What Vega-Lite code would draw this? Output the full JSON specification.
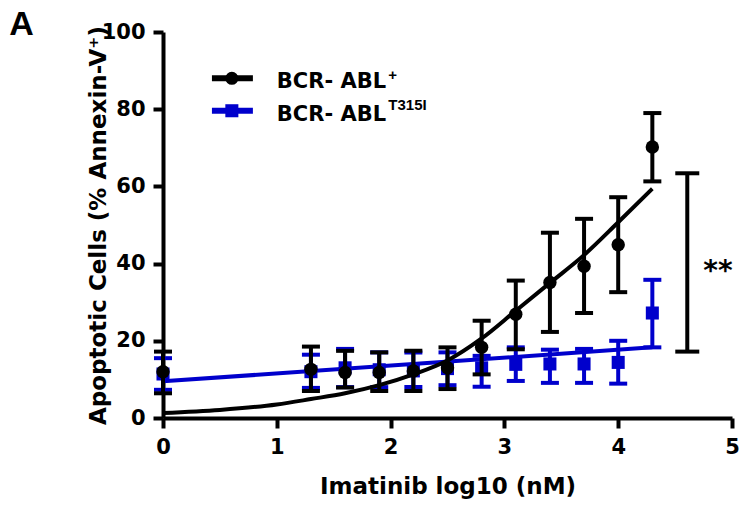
{
  "$schema": "https://vega.github.io/schema/vega-lite/v6.json",
  "width": 569,
  "height": 386,
  "autosize": {"type": "none"},
  "padding": {"left": 163, "top": 32, "right": 9, "bottom": 88},
  "background": "white",
  "config": {
    "view": {"stroke": null},
    "axis": {
      "domainColor": "black", "domainWidth": 4, "tickColor": "black", "tickWidth": 4, "tickSize": 10,
      "labelFont": "DejaVu Sans", "labelFontWeight": "bold", "labelFontSize": 21, "labelColor": "black",
      "titleFont": "DejaVu Sans", "titleFontWeight": "bold", "titleFontSize": 23, "titleColor": "black",
      "grid": false, "labelFlush": false, "labelOverlap": false
    },
    "axisX": {"labelPadding": 8, "titleY": 75, "titleBaseline": "alphabetic"},
    "axisY": {"labelPadding": 8, "titleX": -58, "titleY": 193, "titleBaseline": "alphabetic", "titleAngle": 270, "titleAlign": "center"}
  },
  "datasets": {
    "black": [
      {"x": 0, "mean": 12.0, "lo": 6.4, "hi": 17.2},
      {"x": 1.3, "mean": 12.6, "lo": 7.0, "hi": 18.5},
      {"x": 1.6, "mean": 11.8, "lo": 7.9, "hi": 17.4},
      {"x": 1.9, "mean": 11.8, "lo": 7.0, "hi": 17.0},
      {"x": 2.2, "mean": 12.2, "lo": 7.0, "hi": 17.4},
      {"x": 2.5, "mean": 13.0, "lo": 7.5, "hi": 18.3},
      {"x": 2.8, "mean": 18.3, "lo": 11.3, "hi": 25.2},
      {"x": 3.1, "mean": 26.9, "lo": 17.8, "hi": 35.6},
      {"x": 3.4, "mean": 35.1, "lo": 22.3, "hi": 48.0},
      {"x": 3.7, "mean": 39.3, "lo": 27.2, "hi": 51.6},
      {"x": 4.0, "mean": 44.9, "lo": 32.6, "hi": 57.2},
      {"x": 4.3, "mean": 70.2, "lo": 61.3, "hi": 79.0}
    ],
    "blue": [
      {"x": 0, "mean": 11.4, "lo": 7.3, "hi": 15.5},
      {"x": 1.3, "mean": 12.0, "lo": 7.8, "hi": 16.4},
      {"x": 1.6, "mean": 13.0, "lo": 8.0, "hi": 17.9},
      {"x": 1.9, "mean": 12.5, "lo": 8.0, "hi": 17.0},
      {"x": 2.2, "mean": 12.2, "lo": 8.0, "hi": 17.0},
      {"x": 2.5, "mean": 12.8, "lo": 8.5, "hi": 17.0},
      {"x": 2.8, "mean": 13.0, "lo": 8.1, "hi": 16.1},
      {"x": 3.1, "mean": 13.9, "lo": 9.6, "hi": 18.3},
      {"x": 3.4, "mean": 14.0, "lo": 9.1, "hi": 17.7},
      {"x": 3.7, "mean": 14.0, "lo": 9.1, "hi": 17.9},
      {"x": 4.0, "mean": 14.4, "lo": 8.9, "hi": 20.0},
      {"x": 4.3, "mean": 27.2, "lo": 18.3, "hi": 35.8}
    ],
    "blackFit": [
      {"x": 0, "y": 1.3}, {"x": 0.5, "y": 2.1}, {"x": 1.0, "y": 3.5}, {"x": 1.3, "y": 4.9},
      {"x": 1.6, "y": 6.4}, {"x": 1.9, "y": 8.5}, {"x": 2.2, "y": 11.3}, {"x": 2.5, "y": 14.9},
      {"x": 2.8, "y": 20.6}, {"x": 3.1, "y": 27.8}, {"x": 3.4, "y": 35.0}, {"x": 3.7, "y": 42.2},
      {"x": 4.0, "y": 50.7}, {"x": 4.3, "y": 59.4}
    ],
    "blueFit": [{"x": 0, "y": 9.5}, {"x": 4.3, "y": 18.3}],
    "bracket": [{"x": 4.607, "lo": 17.2, "hi": 63.4}],
    "stars": [{"x": 4.877, "y": 35.8, "label": "**"}],
    "panel": [{"x": -1.35, "y": 99.2, "label": "A"}],
    "legendLines": [
      {"series": "black", "x": 0.43, "x2": 0.79, "y": 88.0, "px": 0.605},
      {"series": "blue", "x": 0.43, "x2": 0.79, "y": 79.6, "px": 0.605}
    ],
    "legendText": [
      {"x": 1.0, "y": 85.4, "label": "BCR- ABL"},
      {"x": 1.0, "y": 77.0, "label": "BCR- ABL"}
    ],
    "legendSup": [
      {"x": 1.98, "y": 87.6, "label": "+"},
      {"x": 1.98, "y": 79.8, "label": "T315I"}
    ]
  },
  "encoding": {
    "x": {
      "field": "x", "type": "quantitative",
      "scale": {"domain": [0, 5], "nice": false, "zero": false},
      "axis": {"title": "Imatinib log10 (nM)", "values": [0, 1, 2, 3, 4, 5], "format": "d"}
    }
  },
  "layer": [
    {
      "data": {"name": "blueFit"},
      "mark": {"type": "line", "color": "#0000CC", "strokeWidth": 4},
      "encoding": {
        "y": {"field": "y", "type": "quantitative", "scale": {"domain": [0, 100], "nice": false},
              "axis": {"title": "Apoptotic Cells (% Annexin-V⁺)", "values": [0, 20, 40, 60, 80, 100]}}
      }
    },
    {
      "data": {"name": "blue"},
      "mark": {"type": "rule", "color": "#0000CC", "strokeWidth": 4},
      "encoding": {
        "y": {"field": "lo", "type": "quantitative", "scale": {"domain": [0, 100], "nice": false}, "axis": {"title": "Apoptotic Cells (% Annexin-V⁺)", "values": [0, 20, 40, 60, 80, 100]}},
        "y2": {"field": "hi"}
      }
    },
    {
      "data": {"name": "blue"},
      "mark": {"type": "tick", "orient": "horizontal", "color": "#0000CC", "size": 18, "thickness": 4, "opacity": 1},
      "encoding": {
        "y": {"field": "lo", "type": "quantitative", "scale": {"domain": [0, 100], "nice": false}, "axis": {"title": "Apoptotic Cells (% Annexin-V⁺)", "values": [0, 20, 40, 60, 80, 100]}}
      }
    },
    {
      "data": {"name": "blue"},
      "mark": {"type": "tick", "orient": "horizontal", "color": "#0000CC", "size": 18, "thickness": 4, "opacity": 1},
      "encoding": {
        "y": {"field": "hi", "type": "quantitative", "scale": {"domain": [0, 100], "nice": false}, "axis": {"title": "Apoptotic Cells (% Annexin-V⁺)", "values": [0, 20, 40, 60, 80, 100]}}
      }
    },
    {
      "data": {"name": "blue"},
      "mark": {"type": "point", "shape": "square", "filled": true, "color": "#0000CC", "size": 170, "opacity": 1},
      "encoding": {
        "y": {"field": "mean", "type": "quantitative", "scale": {"domain": [0, 100], "nice": false}, "axis": {"title": "Apoptotic Cells (% Annexin-V⁺)", "values": [0, 20, 40, 60, 80, 100]}}
      }
    },
    {
      "data": {"name": "blackFit"},
      "mark": {"type": "line", "color": "black", "strokeWidth": 4, "interpolate": "monotone"},
      "encoding": {
        "y": {"field": "y", "type": "quantitative", "scale": {"domain": [0, 100], "nice": false}, "axis": {"title": "Apoptotic Cells (% Annexin-V⁺)", "values": [0, 20, 40, 60, 80, 100]}}
      }
    },
    {
      "data": {"name": "black"},
      "mark": {"type": "rule", "color": "black", "strokeWidth": 4},
      "encoding": {
        "y": {"field": "lo", "type": "quantitative", "scale": {"domain": [0, 100], "nice": false}, "axis": {"title": "Apoptotic Cells (% Annexin-V⁺)", "values": [0, 20, 40, 60, 80, 100]}},
        "y2": {"field": "hi"}
      }
    },
    {
      "data": {"name": "black"},
      "mark": {"type": "tick", "orient": "horizontal", "color": "black", "size": 18, "thickness": 4, "opacity": 1},
      "encoding": {
        "y": {"field": "lo", "type": "quantitative", "scale": {"domain": [0, 100], "nice": false}, "axis": {"title": "Apoptotic Cells (% Annexin-V⁺)", "values": [0, 20, 40, 60, 80, 100]}}
      }
    },
    {
      "data": {"name": "black"},
      "mark": {"type": "tick", "orient": "horizontal", "color": "black", "size": 18, "thickness": 4, "opacity": 1},
      "encoding": {
        "y": {"field": "hi", "type": "quantitative", "scale": {"domain": [0, 100], "nice": false}, "axis": {"title": "Apoptotic Cells (% Annexin-V⁺)", "values": [0, 20, 40, 60, 80, 100]}}
      }
    },
    {
      "data": {"name": "black"},
      "mark": {"type": "point", "shape": "circle", "filled": true, "color": "black", "size": 180, "opacity": 1},
      "encoding": {
        "y": {"field": "mean", "type": "quantitative", "scale": {"domain": [0, 100], "nice": false}, "axis": {"title": "Apoptotic Cells (% Annexin-V⁺)", "values": [0, 20, 40, 60, 80, 100]}}
      }
    },
    {
      "data": {"name": "bracket"},
      "mark": {"type": "rule", "color": "black", "strokeWidth": 4},
      "encoding": {
        "y": {"field": "lo", "type": "quantitative", "scale": {"domain": [0, 100], "nice": false}, "axis": {"title": "Apoptotic Cells (% Annexin-V⁺)", "values": [0, 20, 40, 60, 80, 100]}},
        "y2": {"field": "hi"}
      }
    },
    {
      "data": {"name": "bracket"},
      "mark": {"type": "tick", "orient": "horizontal", "color": "black", "size": 24, "thickness": 4, "opacity": 1},
      "encoding": {
        "y": {"field": "lo", "type": "quantitative", "scale": {"domain": [0, 100], "nice": false}, "axis": {"title": "Apoptotic Cells (% Annexin-V⁺)", "values": [0, 20, 40, 60, 80, 100]}}
      }
    },
    {
      "data": {"name": "bracket"},
      "mark": {"type": "tick", "orient": "horizontal", "color": "black", "size": 24, "thickness": 4, "opacity": 1},
      "encoding": {
        "y": {"field": "hi", "type": "quantitative", "scale": {"domain": [0, 100], "nice": false}, "axis": {"title": "Apoptotic Cells (% Annexin-V⁺)", "values": [0, 20, 40, 60, 80, 100]}}
      }
    },
    {
      "data": {"name": "stars"},
      "mark": {"type": "text", "font": "DejaVu Sans", "fontWeight": "bold", "fontSize": 28, "align": "center", "baseline": "alphabetic", "color": "black"},
      "encoding": {
        "y": {"field": "y", "type": "quantitative", "scale": {"domain": [0, 100], "nice": false}, "axis": {"title": "Apoptotic Cells (% Annexin-V⁺)", "values": [0, 20, 40, 60, 80, 100]}},
        "text": {"field": "label"}
      }
    },
    {
      "data": {"name": "panel"},
      "mark": {"type": "text", "font": "Liberation Sans", "fontWeight": "bold", "fontSize": 34, "align": "left", "baseline": "alphabetic", "color": "black"},
      "encoding": {
        "y": {"field": "y", "type": "quantitative", "scale": {"domain": [0, 100], "nice": false}, "axis": {"title": "Apoptotic Cells (% Annexin-V⁺)", "values": [0, 20, 40, 60, 80, 100]}},
        "text": {"field": "label"}
      }
    },
    {
      "data": {"name": "legendLines"},
      "mark": {"type": "rule", "strokeWidth": 6},
      "encoding": {
        "y": {"field": "y", "type": "quantitative", "scale": {"domain": [0, 100], "nice": false}, "axis": {"title": "Apoptotic Cells (% Annexin-V⁺)", "values": [0, 20, 40, 60, 80, 100]}},
        "x2": {"field": "x2"},
        "color": {"field": "series", "type": "nominal", "scale": {"domain": ["black", "blue"], "range": ["#000000", "#0000CC"]}, "legend": null}
      }
    },
    {
      "data": {"name": "legendLines"},
      "mark": {"type": "point", "filled": true, "size": 170, "opacity": 1},
      "encoding": {
        "x": {"field": "px", "type": "quantitative"},
        "y": {"field": "y", "type": "quantitative", "scale": {"domain": [0, 100], "nice": false}, "axis": {"title": "Apoptotic Cells (% Annexin-V⁺)", "values": [0, 20, 40, 60, 80, 100]}},
        "color": {"field": "series", "type": "nominal", "scale": {"domain": ["black", "blue"], "range": ["#000000", "#0000CC"]}, "legend": null},
        "shape": {"field": "series", "type": "nominal", "scale": {"domain": ["black", "blue"], "range": ["circle", "square"]}, "legend": null}
      }
    },
    {
      "data": {"name": "legendText"},
      "mark": {"type": "text", "font": "DejaVu Sans", "fontWeight": "bold", "fontSize": 21, "align": "left", "baseline": "alphabetic", "color": "black"},
      "encoding": {
        "y": {"field": "y", "type": "quantitative", "scale": {"domain": [0, 100], "nice": false}, "axis": {"title": "Apoptotic Cells (% Annexin-V⁺)", "values": [0, 20, 40, 60, 80, 100]}},
        "text": {"field": "label"}
      }
    },
    {
      "data": {"name": "legendSup"},
      "mark": {"type": "text", "font": "Liberation Sans", "fontWeight": "bold", "fontSize": 15, "align": "left", "baseline": "alphabetic", "color": "black"},
      "encoding": {
        "y": {"field": "y", "type": "quantitative", "scale": {"domain": [0, 100], "nice": false}, "axis": {"title": "Apoptotic Cells (% Annexin-V⁺)", "values": [0, 20, 40, 60, 80, 100]}},
        "text": {"field": "label"}
      }
    }
  ]
}
